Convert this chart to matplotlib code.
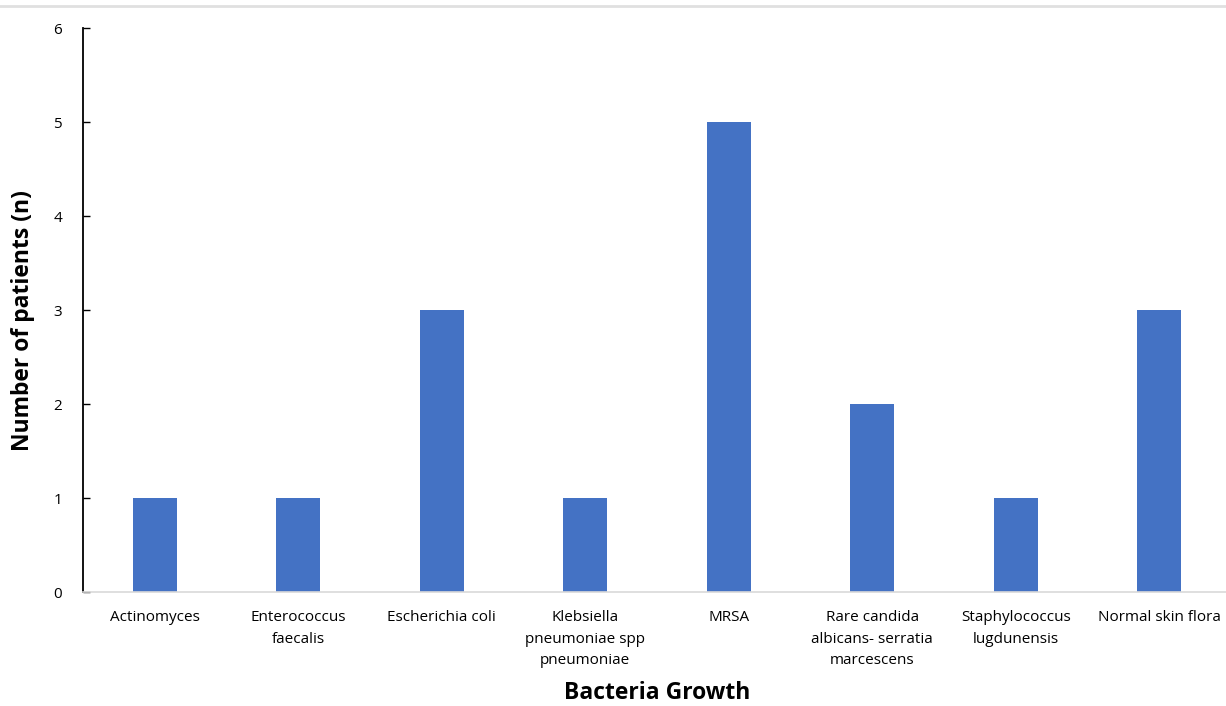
import matplotlib.pyplot as plt
import numpy as np

# Data: number of patients per bacterial growth
categories = [
    "Actinomyces",
    "Enterococcus\nfaecalis",
    "Escherichia coli",
    "Klebsiella\npneumoniae spp\npneumoniae",
    "MRSA",
    "Rare candida\nalbicans- serratia\nmarcescens",
    "Staphylococcus\nlugdunensis",
    "Normal skin flora",
]
patients = [1, 1, 3, 1, 5, 2, 1, 3]
y_ticks = [0, 1, 2, 3, 4, 5, 6]

plt.rcParams['font.family'] = ['Open Sans', 'DejaVu Sans']

W, H = 1226, 706
fig = plt.figure(figsize=(W / 100, H / 100), dpi=100)
ax = fig.add_axes([83 / W, (H - 592) / H, 1148 / W, 564 / H])

x = np.arange(len(categories))
ax.bar(x, patients, width=0.31, color="#4472C4")

ax.set_xlim(-0.5, len(categories) - 0.5)
ax.set_ylim(0, 6)
ax.set_yticks(y_ticks)
ax.set_xticks(x)
ax.set_xticklabels(categories, fontsize=11, linespacing=1.6, va="top")

ax.tick_params(axis="y", direction="in", length=5, width=1, labelsize=11, pad=15)
ax.tick_params(axis="x", length=0, pad=13)

for side in ("top", "right"):
    ax.spines[side].set_visible(False)
ax.spines["left"].set_color("black")
ax.spines["left"].set_linewidth(1.3)
ax.spines["bottom"].set_color("#d9d9d9")
ax.spines["bottom"].set_linewidth(1.2)

ax.set_ylabel("Number of patients (n)", fontsize=16.5, fontweight="bold")
ax.yaxis.set_label_coords(-0.042, 0.482)
ax.set_xlabel("Bacteria Growth", fontsize=16.5, fontweight="bold", labelpad=9)

# thin grey border line across the top of the image
fig.add_artist(plt.Line2D([0, 1], [1 - 6 / H, 1 - 6 / H], color="#e0e0e0", linewidth=2))

fig.savefig("out.png", dpi=100)
